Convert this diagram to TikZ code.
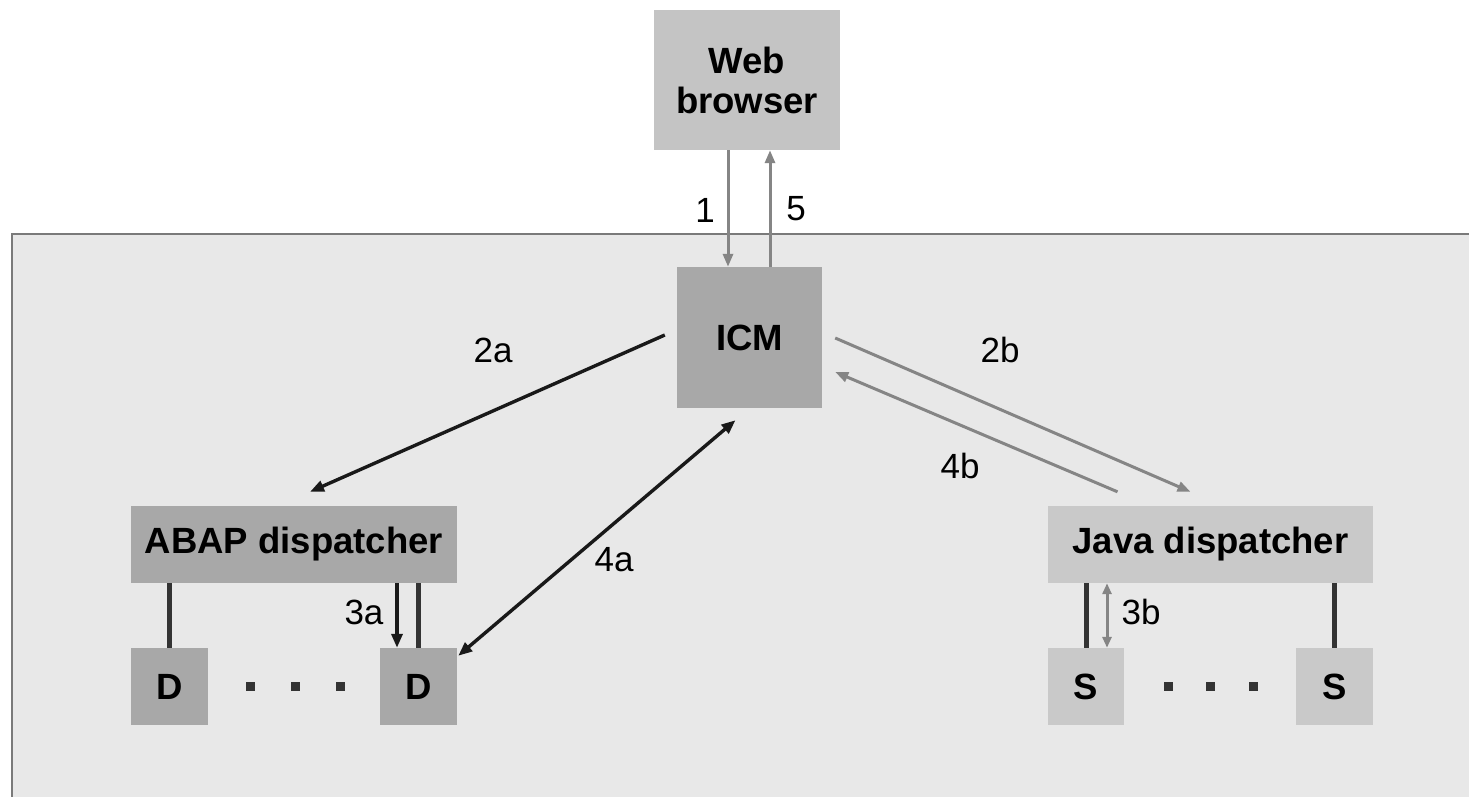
\documentclass[tikz,border=0pt]{standalone}
\usepackage{fontspec}
\setmainfont{Liberation Sans}
\usetikzlibrary{arrows.meta,calc}
\definecolor{panel}{HTML}{E8E8E8}
\definecolor{panelline}{HTML}{7A7A7A}
\definecolor{lightbox}{HTML}{C4C4C4}
\definecolor{darkbox}{HTML}{A8A8A8}
\definecolor{javabox}{HTML}{C9C9C9}
\definecolor{grayarrow}{HTML}{858585}
\definecolor{darkline}{HTML}{333333}
\tikzset{
  box/.style={inner sep=0pt, font=\fontsize{36.5}{40}\selectfont\bfseries, align=center},
  lbl/.style={font=\fontsize{35}{40}\selectfont, inner sep=0pt},
  blackarr/.style={draw=black!90, line width=3.4pt, -{Triangle[length=14pt,width=11pt]}},
  grayarr/.style={draw=grayarrow, line width=3pt, -{Triangle[length=13pt,width=10pt]}},
  bar/.style={draw=darkline, line width=5pt},
  dot/.style={fill=darkline, minimum size=9pt, inner sep=0pt}
}
\begin{document}
\begin{tikzpicture}[x=1pt,y=-1pt]
\useasboundingbox (0,0) rectangle (1469,797);
\fill[white] (0,0) rectangle (1469,797);
% panel
\fill[panel] (12,234) rectangle (1469,797);
\draw[panelline, line width=2pt] (12,797) -- (12,234) -- (1469,234);
% nodes
\node[box, fill=lightbox, minimum width=186pt, minimum height=140pt] (web) at (747,80) {Web\\browser};
\node[box, fill=darkbox, minimum width=145pt, minimum height=141pt] (icm) at (749.5,337.5) {ICM};
\node[box, fill=darkbox, minimum width=326pt, minimum height=77pt] (abap) at (294,544.5) {ABAP dispatcher};
\node[box, fill=darkbox, minimum width=77pt, minimum height=77pt] (d1) at (169.5,686.5) {D};
\node[box, fill=darkbox, minimum width=77pt, minimum height=77pt] (d2) at (418.5,686.5) {D};
\node[box, fill=javabox, minimum width=325pt, minimum height=77pt] (java) at (1210.5,544.5) {Java dispatcher};
\node[box, fill=javabox, minimum width=76pt, minimum height=77pt] (s1) at (1086,686.5) {S};
\node[box, fill=javabox, minimum width=77pt, minimum height=77pt] (s2) at (1334.5,686.5) {S};
% dots
\node[dot] (ld1) at (250,686) {};
\node[dot] (ld2) at (295,686) {};
\node[dot] (ld3) at (340,686) {};
\node[dot] (rd1) at (1168,686) {};
\node[dot] (rd2) at (1210,686) {};
\node[dot] (rd3) at (1253,686) {};
% browser <-> ICM
\draw[grayarr] ($(web.south)+(-19,0)$) -- ($(icm.north)+(-21.5,0)$);
\draw[grayarr] ($(icm.north)+(20.5,0)$) -- ($(web.south)+(23,0)$);
\node[lbl] (l1) at (705,210) {1};
\node[lbl] (l5) at (796,209) {5};
% 2a, 4a
\draw[blackarr] ($(icm.west)+(-12,-2.5)$) -- ($(abap.north)+(16,-14)$);
\node[lbl] (l2a) at (493,350) {2a};
\draw[blackarr, {Triangle[length=14pt,width=11pt]}-{Triangle[length=14pt,width=11pt]}] ($(d2.north east)+(1,8)$) -- ($(icm.south)+(-14,12)$);
\node[lbl] (l4a) at (614,560) {4a};
% 2b, 4b
\draw[grayarr] ($(icm.east)+(13,0.5)$) -- ($(java.north)+(-20,-14)$);
\node[lbl] (l2b) at (1000,350) {2b};
\draw[grayarr] ($(java.north)+(-93,-14)$) -- ($(icm.east)+(13,34.5)$);
\node[lbl] (l4b) at (960,466) {4b};
% ABAP side
\draw[bar] (d1.north) -- (d1.north |- abap.south);
\draw[bar] (d2.north) -- (d2.north |- abap.south);
\draw[blackarr] ($(abap.south)+(103,0)$) -- ($(d2.north)+(-21.5,0)$);
\node[lbl] (l3a) at (364,612) {3a};
% Java side
\draw[bar] (s1.north) -- (s1.north |- java.south);
\draw[bar] (s2.north) -- (s2.north |- java.south);
\draw[grayarr, {Triangle[length=11pt,width=9pt]}-{Triangle[length=11pt,width=9pt]}] ($(s1.north)+(21,0)$) -- ($(java.south)+(-103.5,0)$);
\node[lbl] (l3b) at (1141,612) {3b};
\end{tikzpicture}
\end{document}
